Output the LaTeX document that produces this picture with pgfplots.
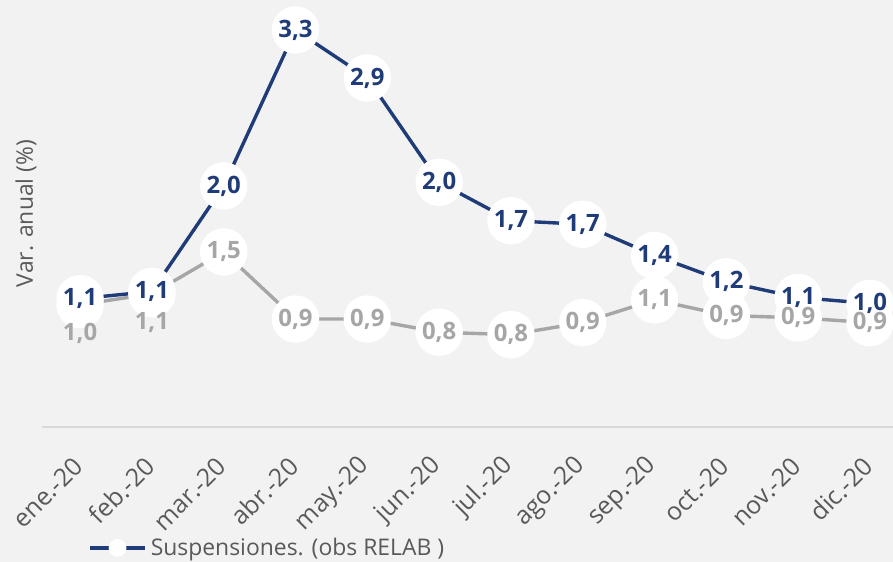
\documentclass[border=0pt]{standalone}
\usepackage{pgfplots}
\pgfplotsset{compat=1.18}
\usepackage{pgfplotstable}
\usepackage{fontspec}
\setmainfont{Open Sans}
\usetikzlibrary{backgrounds}

\definecolor{bgcol}{HTML}{F2F2F2}
\definecolor{serblue}{HTML}{1F3C78}
\definecolor{sergray}{HTML}{A6A6A6}
\definecolor{txtgray}{HTML}{595959}
\definecolor{axgray}{HTML}{D9D9D9}

% Suspensiones (obs RELAB)
\pgfplotstableread{
x y lab
0 1.07 1,1
1 1.13 1,1
2 2.01 2,0
3 3.31 3,3
4 2.91 2,9
5 2.04 2,0
6 1.72 1,7
7 1.69 1,7
8 1.43 1,4
9 1.21 1,2
10 1.08 1,1
11 1.03 1,0
}\susp

% second series (gray)
\pgfplotstableread{
x y lab
0 1.02 1,0
1 1.11 1,1
2 1.46 1,5
3 0.90 0,9
4 0.90 0,9
5 0.79 0,8
6 0.77 0,8
7 0.87 0,9
8 1.06 1,1
9 0.93 0,9
10 0.91 0,9
11 0.87 0,9
}\otra

\begin{document}
\begin{tikzpicture}
\begin{axis}[
    name=ax,
    scale only axis,
    width=425.5bp, height=213.5bp,
    xmin=-0.53, xmax=11.32,
    ymin=0, ymax=3.56,
    clip=false,
    axis x line*=bottom,
    axis y line=none,
    x axis line style={draw=axgray, line width=0.8bp, -},
    xtick={0,...,11},
    xticklabels={ene.-20,feb.-20,mar.-20,abr.-20,may.-20,jun.-20,jul.-20,ago.-20,sep.-20,oct.-20,nov.-20,dic.-20},
    xtick style={draw=none},
    xticklabel style={yshift=-15bp, xshift=1.5bp, rotate=45, anchor=east,
        font=\fontsize{12.5}{14}\selectfont, text=txtgray},
    ytick=\empty,
    legend style={at={(axis description cs:0.054,-0.283)}, anchor=west,
        draw=none, fill=none, font=\fontsize{11.5}{13}\selectfont, text=txtgray,
        inner sep=0pt},
    every node near coord/.append style={anchor=center, inner sep=0pt,
        font=\bfseries\fontsize{12}{14}\selectfont},
]
\addplot[sergray, line width=1.7bp, mark=*, mark size=11bp,
    mark options={fill=white, draw=white}, forget plot] table[x=x, y=y] {\otra};
\addplot[serblue, line width=1.7bp, mark=*, mark size=11bp,
    mark options={fill=white, draw=white},
    legend image code/.code={
        \draw[serblue, line width=1.7bp] (0cm,0cm) -- (0.97cm,0cm);
        \fill[white] (0.485cm,0cm) circle (3.6bp);}
    ] table[x=x, y=y] {\susp};
\addlegendentry{Suspensiones. (obs RELAB )}
% data labels
\addplot[draw=none, forget plot, point meta=explicit symbolic,
    nodes near coords, every node near coord/.append style={text=sergray},
    skip coords between index={0}{2}] table[x=x, y=y, meta=lab] {\otra};
\addplot[draw=none, forget plot, point meta=explicit symbolic,
    nodes near coords, every node near coord/.append style={text=sergray, yshift=-14.5bp},
    skip coords between index={2}{12}] table[x=x, y=y, meta=lab] {\otra};
\addplot[draw=none, forget plot, point meta=explicit symbolic,
    nodes near coords, every node near coord/.append style={text=serblue}]
    table[x=x, y=y, meta=lab] {\susp};
\node[rotate=90, anchor=south, inner sep=0pt, font=\fontsize{11.5}{13}\selectfont, text=txtgray]
    at (axis description cs:-0.006,0.5) {Var. anual (\%)};
\coordinate (bl) at (axis description cs:-0.0494,-0.316);
\coordinate (tr) at (axis description cs:1.0,1.0);
\end{axis}
\pgfresetboundingbox
\begin{pgfonlayer}{background}
\fill[bgcol] (bl) rectangle (tr);
\end{pgfonlayer}
\end{tikzpicture}
\end{document}
